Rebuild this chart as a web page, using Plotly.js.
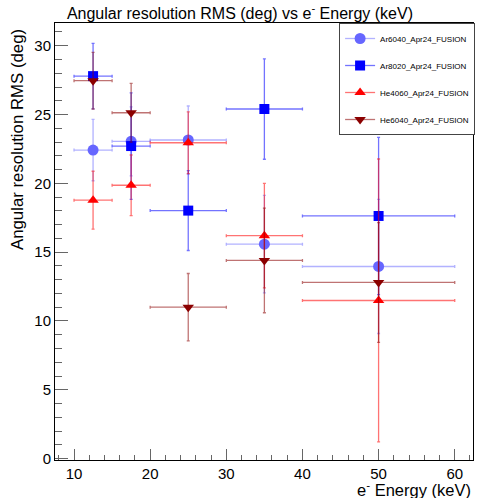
<!DOCTYPE html>
<html>
<head>
<meta charset="utf-8">
<script src="https://cdn.plot.ly/plotly-3.0.1.min.js"></script>
<style>
html,body{margin:0;padding:0;background:#fff;}
#chart{width:477px;height:498px;}
</style>
</head>
<body>
<div id="chart"></div>
<script>
// Energy bins (keV): centres and half-widths
const energy = [12.5, 17.5, 25, 35, 50];
const energyErr = [2.5, 2.5, 5, 5, 10];

// Angular resolution RMS (deg) and errors per gas mixture
const seriesNames = ["Ar6040_Apr24_FUSION", "Ar8020_Apr24_FUSION", "He4060_Apr24_FUSION", "He6040_Apr24_FUSION"];
const ar6040 = [22.42, 23.05, 23.15, 15.58, 13.96];
const ar6040Err = [2.23, 2.50, 2.47, 3.54, 4.87];
const ar8020 = [27.79, 22.71, 18.02, 25.40, 17.63];
const ar8020Err = [2.38, 3.87, 2.90, 3.65, 5.71];
const he4060 = [18.78, 19.86, 22.95, 16.20, 11.49];
const he4060Err = [2.10, 2.20, 2.25, 3.80, 10.28];
const he6040 = [27.46, 25.13, 11.00, 14.40, 12.80];
const he6040Err = [2.06, 2.13, 2.45, 3.80, 4.35];

const styles = [
  {marker: "#6666ff", line: "rgba(102,102,255,0.5)", symbol: "circle", size: 11},
  {marker: "#0000ff", line: "rgba(0,0,255,0.55)", symbol: "square", size: 10},
  {marker: "#ff0000", line: "rgba(255,0,0,0.55)", symbol: "triangle-up", size: 10},
  {marker: "#8b0000", line: "rgba(139,0,0,0.55)", symbol: "triangle-down", size: 10}
];
const ys = [ar6040, ar8020, he4060, he6040];
const errs = [ar6040Err, ar8020Err, he4060Err, he6040Err];

const traces = [];
ys.forEach((y, i) => {
  const s = styles[i];
  traces.push({
    type: "scatter", mode: "markers", x: energy, y: y, showlegend: false,
    marker: {color: s.marker, symbol: s.symbol, size: s.size, line: {width: 0}},
    error_x: {type: "data", array: energyErr, color: s.line, thickness: 1.3, width: 1.5},
    error_y: {type: "data", array: errs[i], color: s.line, thickness: 1.3, width: 1.5},
    hoverinfo: "x+y"
  });
});
// legend entries (line + marker, as in the original legend)
ys.forEach((y, i) => {
  const s = styles[i];
  traces.push({
    type: "scatter", mode: "lines+markers", x: [null], y: [null],
    name: seriesNames[i], legendgroup: "g" + i, showlegend: true,
    marker: {color: s.marker, symbol: s.symbol, size: s.size, line: {width: 0}},
    line: {color: s.line, width: 1.3}
  });
});

const font = "Liberation Sans, Arial, Helvetica, sans-serif";
const layout = {
  width: 477, height: 498,
  margin: {l: 55, r: 2, t: 23, b: 38},
  paper_bgcolor: "#fff", plot_bgcolor: "#fff",
  font: {family: font, color: "#000", size: 15},
  showlegend: true,
  title: {text: "Angular resolution RMS (deg) vs e<sup>-</sup> Energy (keV)",
          x: 0.503, xref: "container", xanchor: "center", y: 0.973, yref: "container", yanchor: "middle",
          font: {family: font, size: 16, color: "#000"}},
  xaxis: {
    range: [7.5, 62.4], showgrid: false, zeroline: false,
    showline: true, mirror: true, linecolor: "#000", linewidth: 1,
    ticks: "inside", ticklen: 11, tickcolor: "#666", tickwidth: 1,
    tick0: 0, dtick: 10, tickfont: {size: 15, family: font},
    minor: {dtick: 2, tick0: 0, ticks: "inside", ticklen: 5, tickcolor: "#666", showgrid: false}
  },
  yaxis: {
    range: [-0.1, 31.65], showgrid: false, zeroline: false,
    showline: true, mirror: true, linecolor: "#000", linewidth: 1,
    ticks: "inside", ticklen: 13, tickcolor: "#666", tickwidth: 1,
    tick0: 0, dtick: 5, tickfont: {size: 15, family: font},
    minor: {dtick: 1, tick0: 0, ticks: "inside", ticklen: 7, tickcolor: "#666", showgrid: false}
  },
  legend: {
    x: 1.005, xanchor: "right", y: 1.0, yanchor: "top",
    bgcolor: "#fff", bordercolor: "#444", borderwidth: 1,
    font: {family: font, size: 8, color: "#000"},
    tracegroupgap: 8, itemwidth: 30
  },
  annotations: [
    {text: "Angular resolution RMS (deg)", textangle: -90, showarrow: false,
     xref: "paper", yref: "paper", x: 0, xshift: -49, y: 1, yshift: -4,
     xanchor: "left", yanchor: "top", font: {family: font, size: 16.8, color: "#000"}},
    {text: "e<sup>-</sup> Energy (keV)", showarrow: false,
     xref: "paper", yref: "paper", x: 1, y: 0, yshift: -40.5,
     xanchor: "right", yanchor: "bottom", font: {family: font, size: 16.5, color: "#000"}}
  ]
};

Plotly.newPlot("chart", traces, layout, {displayModeBar: false, staticPlot: true});
</script>
</body>
</html>
